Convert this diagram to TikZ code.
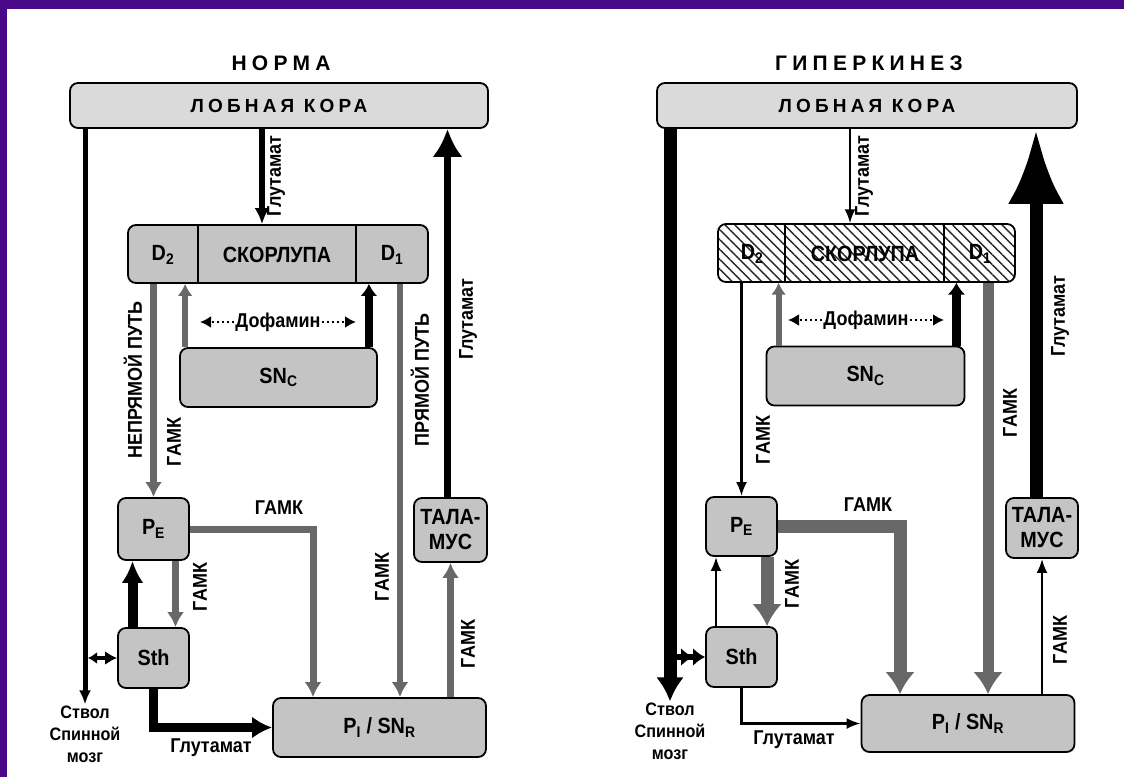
\documentclass[tikz,border=0pt]{standalone}
\usepackage{fontspec}
\setmainfont{Liberation Sans}[FakeStretch=0.9]
\newfontfamily\widefont{Liberation Sans}
\usetikzlibrary{arrows.meta,patterns.meta}

\definecolor{framecol}{RGB}{72,8,136}
\definecolor{boxgray}{RGB}{196,196,196}
\definecolor{cortgray}{RGB}{218,218,218}
\definecolor{arrgray}{RGB}{104,104,104}

\newcommand{\boxfont}{\bfseries\fontsize{22}{25}\selectfont}
\newcommand{\lblfont}{\bfseries\fontsize{20}{23}\selectfont}
\newcommand{\titlefont}{\widefont\bfseries\fontsize{21}{24}\selectfont\addfontfeatures{LetterSpace=25}}
\newcommand{\cortfont}{\widefont\bfseries\fontsize{19}{22}\selectfont\addfontfeatures{LetterSpace=22}}

\begin{document}
\begin{tikzpicture}[x=1pt, y=-1pt,
    block/.style={draw, line width=1.8pt, rounded corners=8pt, fill=boxgray, inner sep=0pt, font=\boxfont},
    cortexbox/.style={block, fill=cortgray, font=\cortfont},
    hatchbox/.style={draw, line width=1.8pt, rounded corners=8pt, inner sep=0pt,
        pattern={Lines[angle=-45,distance=7pt,line width=1.4pt]}, pattern color=black!85},
    boxtext/.style={font=\boxfont, inner sep=1pt},
    titletext/.style={font=\titlefont, inner sep=1pt},
    lbl/.style={font=\lblfont, inner sep=1pt},
    stemtext/.style={font=\bfseries\fontsize{18}{22}\selectfont, align=center, inner sep=1pt},
    thaltext/.style={block, font=\bfseries\fontsize{22}{25}\selectfont, align=center},
    divider/.style={line width=1.8pt},
    blkarr/.style={draw=black, -{Latex[length=14pt,width=12pt]}},
    thinarr/.style={draw=black, line width=2.4pt, -{Latex[length=14pt,width=11pt]}},
    gryarr/.style={draw=arrgray, -{Latex[length=15pt,width=17pt]}},
    bigarr/.style={draw=arrgray, -{Latex[length=22pt,width=30pt]}},
    dotarr/.style={draw=black, line width=2.2pt, dash pattern=on 2pt off 3pt, -{Latex[length=11pt,width=12pt]}}
]
\useasboundingbox (0,0) rectangle (1124,777);
\fill[white] (0,0) rectangle (1124,777);
\fill[framecol] (0,0) rectangle (1124,9);
\fill[framecol] (0,0) rectangle (7,777);

% Норма: блоки
\node[titletext] (titleN) at (281,63) {НОРМА};
\node[cortexbox, minimum width=418pt, minimum height=45pt] (cortexN) at (279,105.5) {ЛОБНАЯ КОРА};
\node[block, minimum width=300pt, minimum height=58pt] (striN) at (278,254) {};
\node[boxtext] (d2N)  at (163,255) {D\textsubscript{2}};
\node[boxtext] (putN) at (277,255) {СКОРЛУПА};
\node[boxtext] (d1N)  at (392,255) {D\textsubscript{1}};
\draw[divider] (198,0 |- striN.north) -- (198,0 |- striN.south);
\draw[divider] (356,0 |- striN.north) -- (356,0 |- striN.south);
\node[block, minimum width=197pt, minimum height=59pt] (sncN) at (278.5,377.5) {SN\textsubscript{C}};
\node[lbl] (dopN) at (278,322) {Дофамин};
\node[block, minimum width=71pt, minimum height=62pt] (peN)  at (153.5,529) {P\textsubscript{E}};
\node[block, minimum width=71pt, minimum height=60pt] (sthN) at (153.5,658) {Sth};
\node[block, minimum width=213pt, minimum height=59pt] (piN) at (379.5,727.5) {P\textsubscript{I} / SN\textsubscript{R}};
\node[thaltext, minimum width=73pt, minimum height=64pt] (thalN) at (450.5,530) {ТАЛА-\\МУС};
\node[stemtext] (stemN) at (85,734) {Ствол\\Спинной\\мозг};
\coordinate (gluN) at (262,0);
\coordinate (dirN) at (400,0);
\coordinate (turnN) at (313,0);

% Норма: подписи
\node[lbl, rotate=90] (glu1N)  at (276,176) {Глутамат};
\node[lbl, rotate=90] (glu2N)  at (468,319) {Глутамат};
\node[lbl, rotate=90] (indN)   at (133,380) {НЕПРЯМОЙ ПУТЬ};
\node[lbl, rotate=90] (gaba1N) at (174,442) {ГАМК};
\node[lbl, rotate=90] (dirlN)  at (420,380) {ПРЯМОЙ ПУТЬ};
\node[lbl, rotate=90] (gaba2N) at (382,577) {ГАМК};
\node[lbl]            (gaba3N) at (279,508) {ГАМК};
\node[lbl, rotate=90] (gaba4N) at (200,587) {ГАМК};
\node[lbl, rotate=90] (gaba5N) at (468,644) {ГАМК};
\node[lbl]            (glu3N)  at (211,748) {Глутамат};

% Норма: стрелки
\draw[blkarr, line width=5pt] (cortexN.south -| stemN.north) -- (stemN.north);
\draw[blkarr, line width=6pt, -{Latex[length=16pt,width=15pt]}] (gluN |- cortexN.south) -- (gluN |- striN.north);
\draw[blkarr, line width=7pt, -{Latex[length=28pt,width=30pt]}] ([xshift=-3pt]thalN.north) -- ([xshift=-3pt]thalN.north |- cortexN.south);
\draw[gryarr, line width=7pt] (peN.north |- striN.south) -- (peN.north);
\draw[gryarr, line width=6pt, -{Latex[length=12pt,width=15pt]}] ([xshift=6pt]sncN.north west) -- ([xshift=6pt]sncN.north west |- striN.south);
\draw[blkarr, line width=8pt, -{Latex[length=12pt,width=17pt]}] ([xshift=-9pt]sncN.north east) -- ([xshift=-9pt]sncN.north east |- striN.south);
\draw[dotarr] (dopN.west) -- (200,0 |- dopN.west);
\draw[dotarr] (dopN.east) -- (356,0 |- dopN.east);
\draw[gryarr, line width=6pt] (dirN |- striN.south) -- (dirN |- piN.north);
\draw[gryarr, line width=7pt] (peN.east) -| (turnN |- piN.north);
\draw[gryarr, line width=7pt] ([xshift=22pt]peN.south) -- ([xshift=22pt]peN.south |- sthN.north);
\draw[blkarr, line width=10pt, -{Latex[length=22pt,width=22pt]}] ([xshift=-21pt]sthN.north) -- ([xshift=-21pt]sthN.north |- peN.south);
\draw[blkarr, line width=9pt, -{Latex[length=20pt,width=22pt]}] (sthN.south) |- (piN.west);
\draw[gryarr, line width=7pt] (thalN.south |- piN.north) -- (thalN.south);
\draw[blkarr, line width=4pt, {Latex[length=9pt,width=12pt]}-{Latex[length=12pt,width=14pt]}] ([xshift=3pt]stemN.north |- sthN.west) -- (sthN.west);

% Гиперкинез: блоки
\node[titletext] (titleH) at (869,63) {ГИПЕРКИНЕЗ};
\node[cortexbox, minimum width=420pt, minimum height=45pt] (cortexH) at (867,105.5) {ЛОБНАЯ КОРА};
\node[hatchbox, minimum width=297pt, minimum height=58pt] (striH) at (866.5,253) {};
\node[boxtext] (d2H)  at (752,254) {D\textsubscript{2}};
\node[boxtext] (putH) at (865,254) {СКОРЛУПА};
\node[boxtext] (d1H)  at (980,254) {D\textsubscript{1}};
\draw[divider] (785,0 |- striH.north) -- (785,0 |- striH.south);
\draw[divider] (944,0 |- striH.north) -- (944,0 |- striH.south);
\node[block, minimum width=198pt, minimum height=59pt] (sncH) at (865.5,376) {SN\textsubscript{C}};
\node[lbl] (dopH) at (866,320) {Дофамин};
\node[block, minimum width=71pt, minimum height=59pt] (peH)  at (741.5,526.5) {P\textsubscript{E}};
\node[block, minimum width=71pt, minimum height=60pt] (sthH) at (741.5,657) {Sth};
\node[block, minimum width=213pt, minimum height=57pt] (piH) at (968,723.5) {P\textsubscript{I} / SN\textsubscript{R}};
\node[thaltext, minimum width=72pt, minimum height=60pt] (thalH) at (1042,528) {ТАЛА-\\МУС};
\node[stemtext] (stemH) at (670,731) {Ствол\\Спинной\\мозг};
\coordinate (gluH) at (850,0);
\coordinate (dirH) at (988,0);
\coordinate (turnH) at (900,0);

% Гиперкинез: подписи
\node[lbl, rotate=90] (glu1H)  at (864,176) {Глутамат};
\node[lbl, rotate=90] (glu2H)  at (1060,316) {Глутамат};
\node[lbl, rotate=90] (gaba1H) at (763,440) {ГАМК};
\node[lbl, rotate=90] (gaba2H) at (1010,413) {ГАМК};
\node[lbl]            (gaba3H) at (868,505) {ГАМК};
\node[lbl, rotate=90] (gaba4H) at (792,584) {ГАМК};
\node[lbl, rotate=90] (gaba5H) at (1060,640) {ГАМК};
\node[lbl]            (glu3H)  at (794,740) {Глутамат};

% Гиперкинез: стрелки
\draw[blkarr, line width=13pt, -{Latex[length=24pt,width=28pt]}] (cortexH.south -| stemH.north) -- (stemH.north);
\draw[thinarr] (gluH |- cortexH.south) -- (gluH |- striH.north);
\draw[blkarr, line width=13pt, -{Latex[length=75pt,width=56pt]}] ([xshift=-6pt]thalH.north) -- ([xshift=-6pt]thalH.north |- cortexH.south);
\draw[thinarr] (peH.north |- striH.south) -- (peH.north);
\draw[gryarr, line width=6pt, -{Latex[length=12pt,width=15pt]}] ([xshift=13pt]sncH.north west) -- ([xshift=13pt]sncH.north west |- striH.south);
\draw[blkarr, line width=9pt, -{Latex[length=12pt,width=18pt]}] ([xshift=-9pt]sncH.north east) -- ([xshift=-9pt]sncH.north east |- striH.south);
\draw[dotarr] (dopH.west) -- (788,0 |- dopH.west);
\draw[dotarr] (dopH.east) -- (944,0 |- dopH.east);
\draw[bigarr, line width=11pt] (dirH |- striH.south) -- (dirH |- piH.north);
\draw[bigarr, line width=13pt] (peH.east) -| (turnH |- piH.north);
\draw[bigarr, line width=13pt] ([xshift=25.5pt]peH.south) -- ([xshift=25.5pt]peH.south |- sthH.north);
\draw[thinarr] ([xshift=-25.5pt]sthH.north) -- ([xshift=-25.5pt]sthH.north |- peH.south);
\draw[thinarr] (sthH.south) |- (piH.west);
\draw[thinarr] (thalH.south |- piH.north) -- (thalH.south);
\draw[blkarr, line width=6pt, -{Latex[length=12pt,width=18pt]Latex[length=12pt,width=18pt]}] ([xshift=7pt]stemH.north |- sthH.west) -- (sthH.west);

\end{tikzpicture}
\end{document}
